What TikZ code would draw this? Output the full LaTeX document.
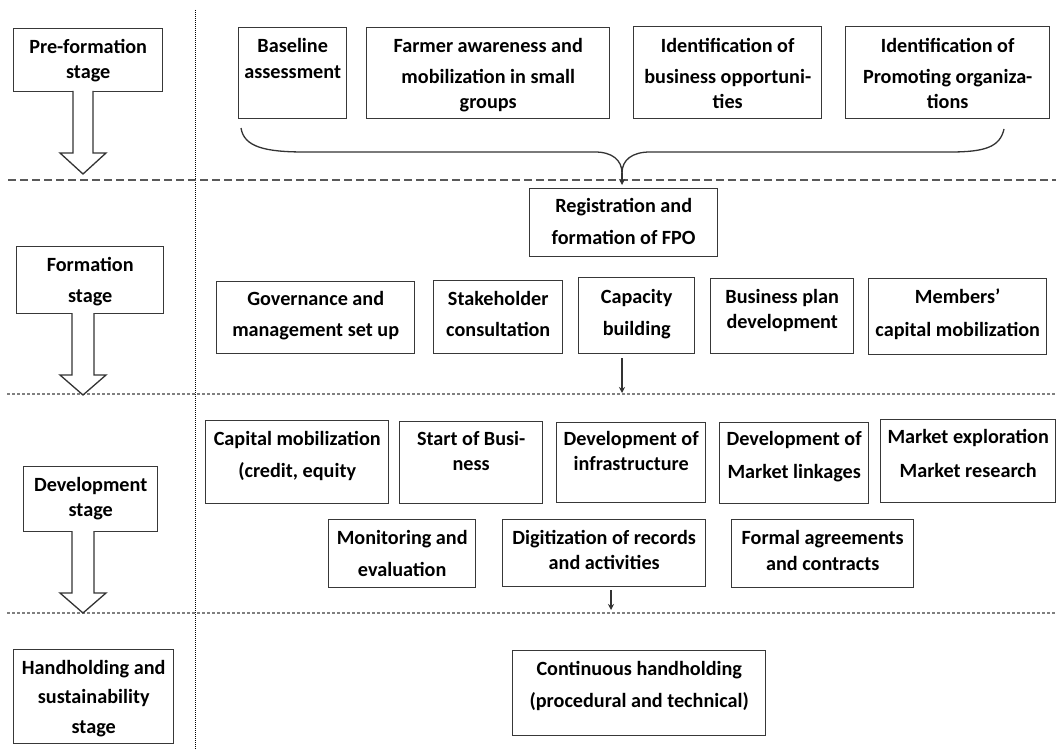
\documentclass[tikz,border=0pt]{standalone}
\usepackage{fontspec}
\setmainfont{Carlito}
\usetikzlibrary{arrows.meta,calc}
\tikzset{
  box/.style={draw=black!78, line width=1.4pt, fill=white, inner sep=0pt},
  txt/.style={inner sep=0pt, align=center, font=\fontsize{20.2}{25}\selectfont\bfseries, text=black},
  conn/.style={draw=black!80, line width=1.3pt},
  tip/.style={-{Stealth[length=6pt,width=6pt]}},
  blockarrow/.style={draw=black!80, line width=1.3pt, fill=white, line join=miter},
  bigdash/.style={draw=black!65, line width=1.4pt, dash pattern=on 8pt off 4pt},
  finedash/.style={draw=black!50, line width=1.1pt, dash pattern=on 3pt off 2pt},
  vdots/.style={draw=black, line width=1.6pt, dash pattern=on 1pt off 1pt}
}
\newcommand\bx[7]{%
  \pgfmathsetmacro\myW{#4-#2}\pgfmathsetmacro\myH{#5-#3}%
  \node[box, minimum width=\myW pt, minimum height=\myH pt, anchor=north west] (#1) at (#2,#3) {};
  \node[txt, anchor=north] (#1t) at (#1.north) {\rule{0pt}{#6pt}#7};
}
\begin{document}
\begin{tikzpicture}[x=1pt,y=-1pt]
\useasboundingbox (0,0) rectangle (1056,749);
\fill[white] (0,0) rectangle (1056,749);

% separators
\coordinate (v1) at (195.5,10); \coordinate (v2) at (195.5,749);
\draw[vdots] (v1) -- (v2);
\coordinate (h1a) at (8,180); \coordinate (h1b) at (1056,180);
\draw[bigdash] (h1a) -- (h1b);
\coordinate (h2a) at (7,394); \coordinate (h2b) at (1056,394);
\draw[finedash] (h2a) -- (h2b);
\coordinate (h3a) at (7,613); \coordinate (h3b) at (1056,613);
\draw[finedash] (h3a) -- (h3b);

% stage boxes
\bx{pre}{13}{28}{162}{91}{25}{Pre-formation\\stage}
\bx{form}{16}{246}{163}{313}{25}{Formation\\[6pt]stage}
\bx{dev}{23}{466}{157}{531}{25}{Development\\stage}
\bx{hand}{13}{649}{173}{743}{25}{Handholding and\\[4pt]sustainability\\[5pt]stage}

% block arrows
\draw[blockarrow] (73,91) -- (73,153) -- (60,153) -- (83,174) -- (106,153) -- (93,153) -- (93,91);
\draw[blockarrow] (72,313) -- (72,375) -- (60,375) -- (83,395) -- (106,375) -- (94,375) -- (94,313);
\draw[blockarrow] (72,531) -- (72,593) -- (60,593) -- (83,613) -- (106,593) -- (94,593) -- (94,531);

% pre-formation activities
\bx{base}{238}{27}{346}{118}{25}{Baseline\\[1pt]assessment}
\bx{farm}{366}{27}{609}{118}{25}{Farmer awareness and\\[6pt]mobilization in small\\groups}
\bx{idb}{633}{26}{821}{118}{26}{Identification of\\[6pt]business opportuni-\\ties}
\bx{idp}{845}{26}{1049}{118}{26}{Identification of\\[6pt]Promoting organiza-\\tions}

% brace
\coordinate (bl) at (241,128);
\coordinate (br) at (1004,129);
\coordinate (bm) at (622,173);
\coordinate (bt) at (622,185);
\draw[conn] (bl) .. controls (244,147) and (265,152) .. (305,152) -- (595,152) .. controls (612,152) and (622,160) .. (bm);
\draw[conn] (br) .. controls (1000,147) and (985,152) .. (950,152) -- (650,152) .. controls (632,152) and (622,160) .. (bm);
\draw[conn,tip] (bm) -- (bt);

% formation stage
\bx{reg}{529}{188}{717}{256}{24}{Registration and\\[7pt]formation of FPO}
\bx{gov}{216}{281}{414}{353}{24}{Governance and\\[6pt]management set up}
\bx{stk}{433}{280}{562}{353}{25}{Stakeholder\\[6pt]consultation}
\bx{cap}{578}{277}{694}{353}{26}{Capacity\\[7pt]building}
\bx{bpd}{710}{278}{853}{353}{25}{Business plan\\development}
\bx{mem}{868}{278}{1046}{354}{25}{Members’\\[8pt]capital mobilization}

\coordinate (c1) at (622,358);
\coordinate (c2) at (622,393);
\draw[conn,tip] (c1) -- (c2);

% development stage
\bx{cmb}{205}{420}{388}{503}{25}{Capital mobilization\\[7pt](credit, equity}
\bx{sob}{399}{421}{542}{503}{24}{Start of Busi-\\ness}
\bx{dinf}{556}{422}{705}{502}{23}{Development of\\infrastructure}
\bx{dml}{719}{422}{868}{503}{23}{Development of\\[8pt]Market linkages}
\bx{mex}{880}{419}{1055}{502}{24}{Market exploration\\[9pt]Market research}
\bx{mon}{328}{519}{475}{587}{25}{Monitoring and\\[7pt]evaluation}
\bx{dig}{502}{519}{705}{586}{25}{Digitization of records\\and activities}
\bx{fag}{731}{519}{913}{587}{25}{Formal agreements\\[1pt]and contracts}

\coordinate (d1) at (611,590);
\coordinate (d2) at (611,610);
\draw[conn,tip] (d1) -- (d2);

% handholding stage
\bx{cont}{512}{650}{765}{735}{25}{Continuous handholding\\[7pt](procedural and technical)}
\end{tikzpicture}
\end{document}
